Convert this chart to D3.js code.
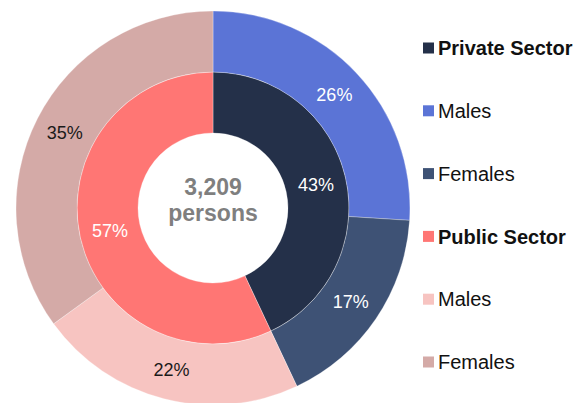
<!DOCTYPE html>
<html>
<head>
<meta charset="utf-8">
<script src="https://cdn.jsdelivr.net/npm/d3@7"></script>
<style>
    body { margin: 0; background: #fff; }
    text { font-family: "Liberation Sans", Arial, sans-serif; }
</style>
</head>
<body>
<svg id="chart" width="582" height="403"></svg>
<script>
// data
const sectors = ["Private Sector", "Public Sector"];
const sectorShares = [43, 57];
const groups = ["Males", "Females", "Males", "Females"];
const groupSector = [0, 0, 1, 1];
const groupShares = [26, 17, 22, 35];
const totalPersons = 3209;

const sectorColors = ["#243049", "#ff7674"];
const groupColors = ["#5b74d6", "#3e5275", "#f7c4c1", "#d4aaa7"];
const groupLabelColors = ["#fff", "#fff", "#1a1a1a", "#1a1a1a"];

const width = 582, height = 403;
const cx = 213, cy = 208;
const rHole = 75, rMid = 136, rOuter = 197;

const svg = d3.select("#chart");
const g = svg.append("g").attr("transform", `translate(${cx},${cy})`);

const pie = d3.pie().sort(null).value(d => d);
const innerArc = d3.arc().innerRadius(rHole).outerRadius(rMid);
const outerArc = d3.arc().innerRadius(rMid).outerRadius(rOuter);

// inner ring: sectors
const inner = pie(sectorShares);
g.selectAll("path.sector")
    .data(inner)
    .enter().append("path")
    .attr("class", "sector")
    .attr("d", innerArc)
    .style("fill", (d, i) => sectorColors[i])
    .style("stroke", "rgba(255,255,255,0.5)")
    .style("stroke-width", 0.6);

// outer ring: males / females
const outer = pie(groupShares);
g.selectAll("path.group")
    .data(outer)
    .enter().append("path")
    .attr("class", "group")
    .attr("d", outerArc)
    .style("fill", (d, i) => groupColors[i])
    .style("stroke", "rgba(255,255,255,0.5)")
    .style("stroke-width", 0.6);

// percent labels
g.selectAll("text.sectorLabel")
    .data(inner)
    .enter().append("text")
    .attr("class", "sectorLabel")
    .attr("transform", d => `translate(${innerArc.centroid(d)})`)
    .attr("text-anchor", "middle")
    .attr("dy", "0.36em")
    .style("font-size", "18px")
    .style("fill", "#fff")
    .text(d => d.data + "%");

g.selectAll("text.groupLabel")
    .data(outer)
    .enter().append("text")
    .attr("class", "groupLabel")
    .attr("transform", d => `translate(${outerArc.centroid(d)})`)
    .attr("text-anchor", "middle")
    .attr("dy", "0.36em")
    .style("font-size", "18px")
    .style("fill", (d, i) => groupLabelColors[i])
    .text(d => d.data + "%");

// center total
g.append("text")
    .attr("text-anchor", "middle")
    .attr("y", -13)
    .style("font-size", "23px")
    .style("font-weight", "bold")
    .style("fill", "#7f7f7f")
    .text(d3.format(",")(totalPersons));
g.append("text")
    .attr("text-anchor", "middle")
    .attr("y", 13)
    .style("font-size", "23px")
    .style("font-weight", "bold")
    .style("fill", "#7f7f7f")
    .text("persons");

// legend
const legendItems = [];
sectors.forEach((s, si) => {
    legendItems.push({label: s, color: sectorColors[si], bold: true});
    groups.forEach((gr, gi) => {
        if (groupSector[gi] === si) legendItems.push({label: gr, color: groupColors[gi], bold: false});
    });
});

const legendY = d3.scalePoint()
    .domain(d3.range(legendItems.length))
    .range([48, 362]);

const legend = svg.append("g").attr("class", "legend");
const item = legend.selectAll("g")
    .data(legendItems)
    .enter().append("g")
    .attr("transform", (d, i) => `translate(423,${legendY(i)})`);

item.append("rect")
    .attr("x", 0)
    .attr("y", -5.5)
    .attr("width", 11)
    .attr("height", 11)
    .style("fill", d => d.color);

item.append("text")
    .attr("x", 15)
    .attr("dy", "0.36em")
    .style("font-size", "20px")
    .style("font-weight", d => d.bold ? "bold" : "normal")
    .style("fill", "#111")
    .text(d => d.label);
</script>
</body>
</html>
